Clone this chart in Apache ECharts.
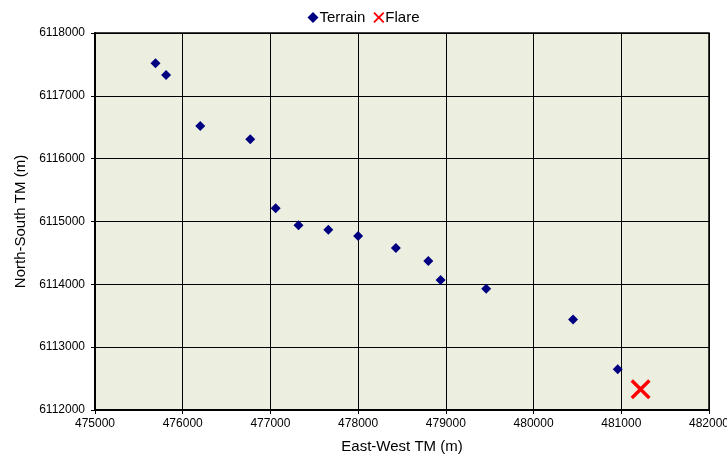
<!DOCTYPE html>
<html>
<head>
<meta charset="utf-8">
<script src="https://cdn.jsdelivr.net/npm/echarts@6/dist/echarts.min.js"></script>
<style>
  html, body { margin: 0; padding: 0; background: #ffffff; }
  #chart { width: 727px; height: 457px; }
</style>
</head>
<body>
<div id="chart"></div>
<script>
// Terrain receptor locations (TM coordinates, metres)
const terrainEast  = [475690, 475810, 476200, 476770, 477060, 477320, 477660, 478000, 478430, 478800, 478940, 479460, 480450, 480960];
const terrainNorth = [6117520, 6117330, 6116520, 6116310, 6115210, 6114940, 6114870, 6114770, 6114580, 6114370, 6114070, 6113930, 6113440, 6112650];

// Flare stack location
const flareEast  = [481220];
const flareNorth = [6112330];

const seriesNames = ['Terrain', 'Flare'];

const terrainData = terrainEast.map((e, i) => [e, terrainNorth[i]]);
const flareData = flareEast.map((e, i) => [e, flareNorth[i]]);

const crossPath = 'path://M0,1.2L1.2,0L5,3.8L8.8,0L10,1.2L6.2,5L10,8.8L8.8,10L5,6.2L1.2,10L0,8.8L3.8,5Z';
const font = '"Liberation Sans", Arial, sans-serif';
const plain = v => String(v);

const chart = echarts.init(document.getElementById('chart'), null, { renderer: 'canvas' });
chart.setOption({
  backgroundColor: '#ffffff',
  animation: false,
  textStyle: { fontFamily: font },
  legend: {
    top: 5,
    left: 'center',
    itemGap: 8,
    itemWidth: 11,
    itemHeight: 11,
    textStyle: { fontSize: 15, color: '#000', fontFamily: font, padding: [0, 0, 0, -4] },
    data: [
      { name: seriesNames[0], icon: 'diamond', itemStyle: { color: '#000080' } },
      { name: seriesNames[1], icon: crossPath, itemStyle: { color: '#ff0000' } }
    ]
  },
  grid: {
    left: 95, right: 18, top: 33, bottom: 47,
    containLabel: false,
    outerBoundsMode: 'none',
    show: true,
    backgroundColor: '#ecefdf',
    borderColor: '#000',
    borderWidth: 1.5
  },
  xAxis: {
    type: 'value',
    min: 475000, max: 482000, interval: 1000,
    name: 'East-West TM (m)',
    nameLocation: 'middle',
    nameGap: 29,
    nameTextStyle: { fontSize: 15, color: '#000', fontFamily: font },
    axisLine: { show: true, lineStyle: { color: '#000', width: 2 } },
    axisTick: { show: true, length: 4, lineStyle: { color: '#000' } },
    axisLabel: { fontSize: 12, color: '#000', margin: 8, fontFamily: font, formatter: plain },
    splitLine: { show: true, lineStyle: { color: '#000', width: 1 } }
  },
  yAxis: {
    type: 'value',
    min: 6112000, max: 6118000, interval: 1000,
    name: 'North-South TM (m)',
    nameLocation: 'middle',
    nameGap: 64,
    nameRotate: 90,
    nameTextStyle: { fontSize: 15, color: '#000', fontFamily: font },
    axisLine: { show: true, lineStyle: { color: '#000', width: 2 } },
    axisTick: { show: true, length: 4, lineStyle: { color: '#000' } },
    axisLabel: { fontSize: 12, color: '#000', margin: 10, fontFamily: font, formatter: plain },
    splitLine: { show: true, lineStyle: { color: '#000', width: 1 } }
  },
  series: [
    {
      name: seriesNames[0],
      type: 'scatter',
      symbol: 'diamond',
      symbolSize: 10,
      itemStyle: { color: '#000080', opacity: 1 },
      data: terrainData
    },
    {
      name: seriesNames[1],
      type: 'scatter',
      symbol: crossPath,
      symbolSize: 20,
      itemStyle: { color: '#ff0000', opacity: 1 },
      data: flareData
    }
  ]
});
</script>
</body>
</html>
